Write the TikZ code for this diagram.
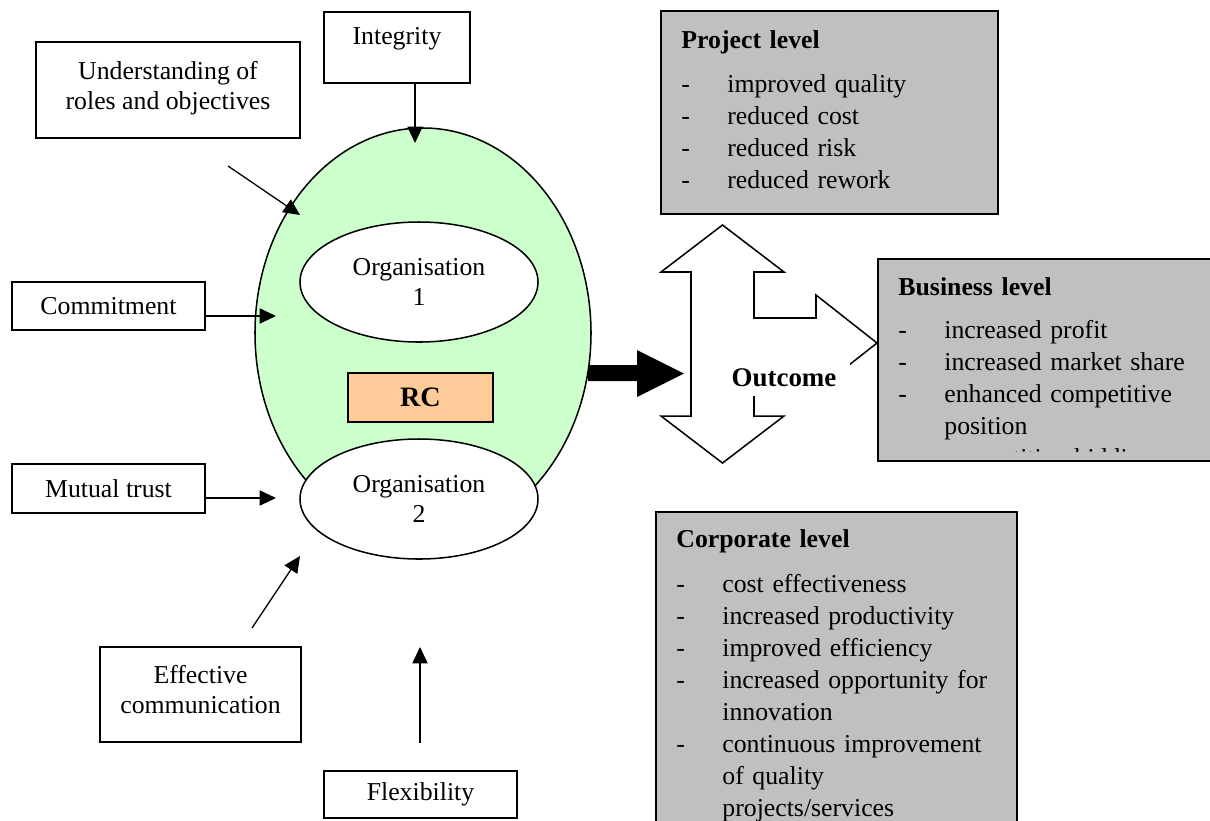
\documentclass[tikz,border=0pt]{standalone}
\usepackage{fontspec}
\setmainfont{Liberation Serif}
\usetikzlibrary{calc,shapes.geometric,positioning,arrows.meta}
\definecolor{rcgreen}{RGB}{204,255,204}
\definecolor{rcpeach}{RGB}{255,204,153}
\definecolor{rcgrey}{RGB}{192,192,192}
\newcommand{\lvdash}{\makebox[19.6pt][l]{-}}
\newcommand{\lvgap}{\hspace*{19.6pt}}

\begin{document}
\begin{tikzpicture}[x=0.015cm,y=-0.015cm,
  every node/.style={font=\fontsize{11}{12.8}\selectfont},
  factor/.style={draw,line width=0.65pt,align=center,inner sep=0pt},
  org/.style={ellipse,draw,fill=white,line width=0.65pt,minimum width=3.57cm,minimum height=1.8cm,align=center,inner sep=0pt},
  panel/.style={draw,line width=0.9pt,fill=rcgrey,anchor=north west,inner sep=0pt},
  paneltext/.style={anchor=north west,align=left,inner sep=0pt,text width=4.95cm,font=\fontsize{11}{13.7}\selectfont},
  push/.style={line width=0.55pt,-{Triangle[length=7pt,width=6.5pt]}}]

\useasboundingbox (0,0) rectangle (1210,820);

% relational contracting core
\node[ellipse,draw,fill=rcgreen,line width=0.65pt,minimum width=5.04cm,minimum height=6.15cm] (group) at (423,333) {};
\node[org] (org1) at (419,282) {Organisation\\1};
\node[org] (org2) at (419,499) {Organisation\\2};
\node[draw,fill=rcpeach,line width=0.65pt,minimum width=2.175cm,minimum height=0.735cm,font=\fontsize{12}{14}\selectfont\bfseries] (rc) at (420.5,397.5) {RC};

% success factors
\node[factor,anchor=north,minimum width=2.19cm,text height=0.495cm,text depth=0.57cm] (integrity) at (397,11) {Integrity};
\node[factor,minimum width=3.96cm,minimum height=1.44cm,text depth=0.15cm] (understand) at (168,90) {Understanding of\\roles and objectives};
\node[factor,minimum width=2.895cm,minimum height=0.72cm] (commit) at (108.5,306) {Commitment};
\node[factor,minimum width=2.895cm,minimum height=0.735cm] (trust) at (108.5,488.5) {Mutual trust};
\node[factor,minimum width=3.015cm,minimum height=1.425cm,text depth=0.15cm] (comms) at (200.5,694.5) {Effective\\communication};
\node[factor,minimum width=2.895cm,minimum height=0.705cm] (flex) at (420.5,794.5) {Flexibility};

\coordinate (intTip) at (415,143);
\coordinate (undFrom) at (228,166); \coordinate (undTip) at (300,215);
\coordinate (comTip) at (276,316);
\coordinate (trustTip) at (276,498);
\coordinate (commsFrom) at (252,628); \coordinate (commsTip) at (300,556);
\coordinate (flexFrom) at (420,743); \coordinate (flexTip) at (420,647);

\draw[push] (integrity.south -| intTip) -- (intTip);
\draw[push] (undFrom) -- (undTip);
\draw[push] (commit.east |- comTip) -- (comTip);
\draw[push] (trust.east |- trustTip) -- (trustTip);
\draw[push] (commsFrom) -- (commsTip);
\draw[push] (flexFrom) -- (flexTip);

% outcome arrows
\fill (588,365) -- (637,365) -- (637,350) -- (684,373.5) -- (637,397) -- (637,381) -- (588,381) -- cycle;
\draw[line width=0.65pt,fill=white] (722.5,225) -- (784,272) -- (754,272) -- (754,318) -- (816,318) -- (816,295)
  -- (877,343) -- (816,391) -- (816,368) -- (754,368) -- (754,416) -- (784,416) -- (722.5,463)
  -- (661,416) -- (691,416) -- (691,272) -- (661,272) -- cycle;
\node[fill=white,inner sep=0pt,minimum width=1.98cm,minimum height=0.54cm,font=\fontsize{11.5}{13}\selectfont\bfseries] (outcome) at (784,378) {Outcome};

% levels
\node[panel,minimum width=5.055cm,minimum height=3.045cm] (project) at (660,10) {};
\begin{scope}
  \clip (661,11) rectangle (996,207);
  \node[paneltext] (projecttext) at ([shift={(21,20)}]project.north west)
    {\textbf{Project level}\\[5pt]
     \lvdash improved quality\\
     \lvdash reduced cost\\
     \lvdash reduced risk\\
     \lvdash reduced rework};
\end{scope}

\node[panel,minimum width=5.07cm,minimum height=3.03cm] (business) at (877,258) {};
\begin{scope}
  \clip (878,259) rectangle (1215,451);
  \node[paneltext] (businesstext) at ([shift={(21,19)}]business.north west)
    {\textbf{Business level}\\[4.5pt]
     \lvdash increased profit\\
     \lvdash increased market share\\
     \lvdash enhanced competitive\\
     \lvgap position\\
     \lvdash competitive bidding};
\end{scope}

\node[panel,minimum width=5.415cm,minimum height=4.785cm] (corporate) at (655,511) {};
\node[paneltext] (corporatetext) at ([shift={(21,18)}]corporate.north west)
  {\textbf{Corporate level}\\[5.4pt]
   \lvdash cost effectiveness\\
   \lvdash increased productivity\\
   \lvdash improved efficiency\\
   \lvdash increased opportunity for\\
   \lvgap innovation\\
   \lvdash continuous improvement\\
   \lvgap of quality\\
   \lvgap projects/services};
\end{tikzpicture}
\end{document}
